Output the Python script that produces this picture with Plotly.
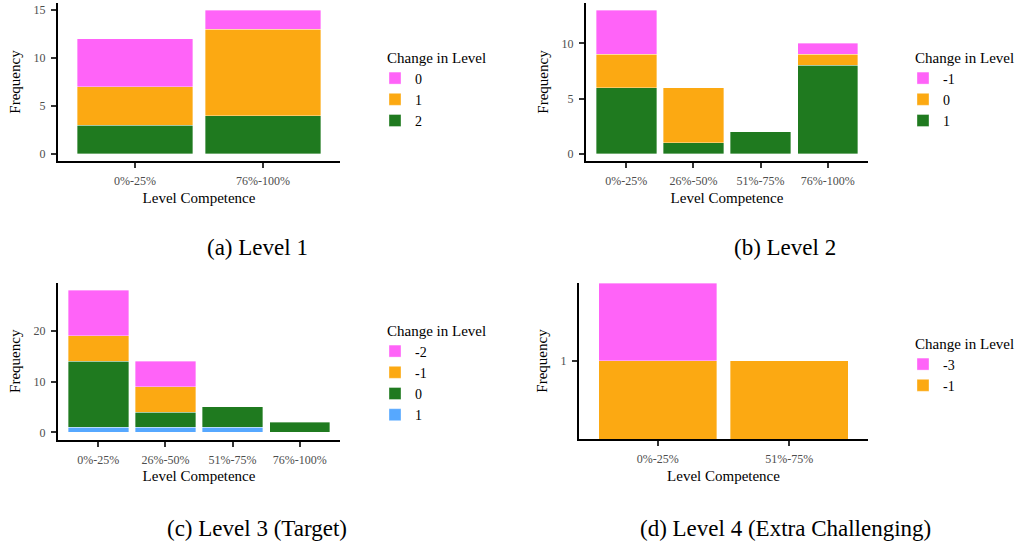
import plotly.graph_objects as go

W, H = 1021, 546

# ---- data ----
cats_a = ["0%-25%", "76%-100%"]
a_change_2 = [3, 4]
a_change_1 = [4, 9]
a_change_0 = [5, 2]

cats_b = ["0%-25%", "26%-50%", "51%-75%", "76%-100%"]
b_change_1 = [6, 1, 2, 8]
b_change_0 = [3, 5, None, 1]
b_change_m1 = [4, None, None, 1]

cats_c = ["0%-25%", "26%-50%", "51%-75%", "76%-100%"]
c_change_1 = [1, 1, 1, None]
c_change_0 = [13, 3, 4, 2]
c_change_m1 = [5, 5, None, None]
c_change_m2 = [9, 5, None, None]

cats_d = ["0%-25%", "51%-75%"]
d_change_m1 = [1, 1]
d_change_m3 = [1, None]

captions = ["(a) Level 1", "(b) Level 2", "(c) Level 3 (Target)", "(d) Level 4 (Extra Challenging)"]

PINK, ORANGE, GREEN, BLUE = "#FF63F8", "#FCA912", "#1F7A1F", "#56A8FF"
SERIF = "Liberation Serif"

fig = go.Figure()

def add(cats, vals, name, color, xa, ya, leg):
    fig.add_trace(go.Bar(
        x=cats, y=vals, name=name, marker_color=color,
        marker_line=dict(color="rgba(255,255,255,0.6)", width=0.6),
        xaxis=xa, yaxis=ya, legend=leg, showlegend=True,
    ))

add(cats_a, a_change_2, "2", GREEN, "x", "y", "legend")
add(cats_a, a_change_1, "1", ORANGE, "x", "y", "legend")
add(cats_a, a_change_0, "0", PINK, "x", "y", "legend")

add(cats_b, b_change_1, "1", GREEN, "x2", "y2", "legend2")
add(cats_b, b_change_0, "0", ORANGE, "x2", "y2", "legend2")
add(cats_b, b_change_m1, "-1", PINK, "x2", "y2", "legend2")

add(cats_c, c_change_1, "1", BLUE, "x3", "y3", "legend3")
add(cats_c, c_change_0, "0", GREEN, "x3", "y3", "legend3")
add(cats_c, c_change_m1, "-1", ORANGE, "x3", "y3", "legend3")
add(cats_c, c_change_m2, "-2", PINK, "x3", "y3", "legend3")

add(cats_d, d_change_m1, "-1", ORANGE, "x4", "y4", "legend4")
add(cats_d, d_change_m3, "-3", PINK, "x4", "y4", "legend4")

def px(xp):
    return xp / W

def py(yp):
    return 1 - yp / H

tickfont = dict(family=SERIF, size=12, color="#4D4D4D")
titlefont = dict(family=SERIF, size=15, color="black")

def xaxis(dom, n, anchor):
    return dict(domain=[px(dom[0]), px(dom[1])], anchor=anchor,
                range=[-0.6, n - 1 + 0.6], showline=True, linecolor="black", linewidth=2,
                ticks="outside", ticklen=5, tickwidth=2, tickcolor="#333333",
                tickfont=tickfont, showgrid=False, zeroline=False, ticklabelstandoff=3,
                title=dict(text="Level Competence", font=titlefont, standoff=5),
                fixedrange=True)

def yaxis(dom, rng, anchor, dtick=None, log=False, tickvals=None):
    d = dict(domain=[py(dom[1]), py(dom[0])], anchor=anchor, range=rng,
             showline=True, linecolor="black", linewidth=2,
             ticks="outside", ticklen=5, tickwidth=2, tickcolor="#333333",
             tickfont=tickfont, showgrid=False, zeroline=False, ticklabelstandoff=3,
             title=dict(text="Frequency", font=titlefont, standoff=9), fixedrange=True)
    if log:
        d["type"] = "log"
        d["tickvals"] = tickvals
    else:
        d["dtick"] = dtick
    return d

def legend(xp, yp):
    return dict(x=px(xp), y=py(yp), xanchor="left", yanchor="top",
                title=dict(text="Change in Level", font=dict(family=SERIF, size=15, color="black")),
                font=dict(family=SERIF, size=14, color="black"),
                traceorder="reversed", bgcolor="rgba(0,0,0,0)", itemclick=False,
                tracegroupgap=0, indentation=-10)

fig.update_layout(
    width=W, height=H, margin=dict(l=0, r=0, t=0, b=0),
    paper_bgcolor="white", plot_bgcolor="white",
    barmode="stack", bargap=0.1,
    font=dict(family=SERIF),
    xaxis=xaxis((58, 340), 2, "y"),
    yaxis=yaxis((3, 161), [-0.75, 15.75], "x", dtick=5),
    xaxis2=xaxis((586, 868), 4, "y2"),
    yaxis2=yaxis((3, 161), [-0.65, 13.65], "x2", dtick=5),
    xaxis3=xaxis((58, 340), 4, "y3"),
    yaxis3=yaxis((283, 439.5), [-1.4, 29.4], "x3", dtick=10),
    xaxis4=xaxis((579, 868), 2, "y4"),
    yaxis4=yaxis((283, 439), [-0.305, 0.302], "x4", log=True, tickvals=[1]),
    legend=legend(385, 43),
    legend2=legend(913, 43),
    legend3=legend(385, 316),
    legend4=legend(913, 329),
)

cap_pos = [(257, 248), (785, 248), (257, 528), (785, 528)]
for text, (cx, cy) in zip(captions, cap_pos):
    fig.add_annotation(text=text, x=px(cx), y=py(cy), xref="paper", yref="paper",
                       xanchor="center", yanchor="middle", showarrow=False,
                       font=dict(family=SERIF, size=23, color="black"))

fig.write_html("out.html")
